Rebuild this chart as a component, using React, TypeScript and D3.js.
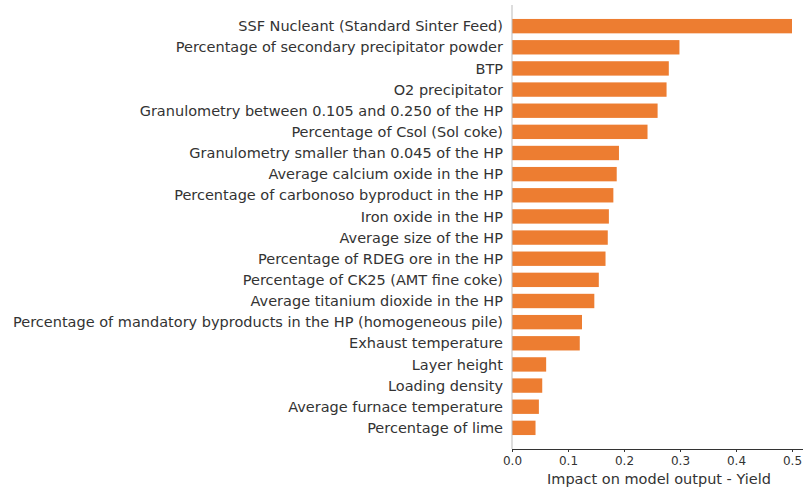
import { useEffect, useRef } from 'react';
import * as d3 from 'd3';

const features = [
  'SSF Nucleant (Standard Sinter Feed)',
  'Percentage of secondary precipitator powder',
  'BTP',
  'O2 precipitator',
  'Granulometry between 0.105 and 0.250 of the HP',
  'Percentage of Csol (Sol coke)',
  'Granulometry smaller than 0.045 of the HP',
  'Average calcium oxide in the HP',
  'Percentage of carbonoso byproduct in the HP',
  'Iron oxide in the HP',
  'Average size of the HP',
  'Percentage of RDEG ore in the HP',
  'Percentage of CK25 (AMT fine coke)',
  'Average titanium dioxide in the HP',
  'Percentage of mandatory byproducts in the HP (homogeneous pile)',
  'Exhaust temperature',
  'Layer height',
  'Loading density',
  'Average furnace temperature',
  'Percentage of lime',
];

const impacts = [
  0.5, 0.299, 0.28, 0.276, 0.26, 0.242, 0.191, 0.187, 0.181, 0.173,
  0.171, 0.167, 0.155, 0.147, 0.125, 0.121, 0.061, 0.054, 0.048, 0.042,
];

const xTicks = [0, 0.1, 0.2, 0.3, 0.4, 0.5];

export default function App() {
  const svgRef = useRef<SVGSVGElement>(null);
  const width = 803;
  const height = 489;

  useEffect(() => {
    if (!svgRef.current) return;
    const svg = d3.select(svgRef.current);
    svg.selectAll('*').remove();

    const left = 512;
    const top = 5;
    const bottom = 449;

    const x = d3.scaleLinear().domain([0, 0.5]).range([left, 792]);
    // rows sit on integer positions, one unit of padding above and below
    const y = d3.scaleLinear().domain([-1, features.length]).range([top, bottom]);
    const barH = (y(1) - y(0)) * 0.68;

    const font = 'DejaVu Sans, sans-serif';

    // bars
    svg.append('g')
      .selectAll('rect')
      .data(impacts)
      .join('rect')
      .attr('x', x(0))
      .attr('y', (_, i) => y(i) - barH / 2)
      .attr('width', d => x(d) - x(0))
      .attr('height', barH)
      .attr('fill', '#ED7D31');

    // feature labels
    svg.append('g')
      .selectAll('text')
      .data(features)
      .join('text')
      .attr('x', left - 9)
      .attr('y', (_, i) => y(i))
      .attr('dy', '0.35em')
      .attr('text-anchor', 'end')
      .style('font-family', font)
      .style('font-size', '14.5px')
      .style('fill', '#333')
      .text(d => d);

    // left spine
    svg.append('line')
      .attr('x1', left).attr('x2', left)
      .attr('y1', top).attr('y2', bottom)
      .attr('stroke', '#bbb')
      .attr('stroke-width', 1);

    // x axis
    const xAxis = svg.append('g')
      .attr('transform', `translate(0,${bottom})`)
      .call(
        d3.axisBottom(x)
          .tickValues(xTicks)
          .tickFormat(d3.format('.1f'))
          .tickSize(3)
          .tickPadding(4)
      );
    xAxis.select('.domain')
      .attr('d', `M${left},0.5H${width}`)
      .attr('stroke', '#333');
    xAxis.selectAll('line').attr('stroke', '#333');
    xAxis.selectAll('text')
      .style('font-family', font)
      .style('font-size', '12px')
      .style('fill', '#333');

    svg.append('text')
      .attr('x', 659)
      .attr('y', 479)
      .attr('dy', '0.35em')
      .attr('text-anchor', 'middle')
      .style('font-family', font)
      .style('font-size', '14.5px')
      .style('fill', '#333')
      .text('Impact on model output - Yield');
  }, []);

  return (
    <svg
      ref={svgRef}
      width={width}
      height={height}
      style={{ position: 'absolute', left: 0, top: 0, background: '#fff' }}
    />
  );
}
